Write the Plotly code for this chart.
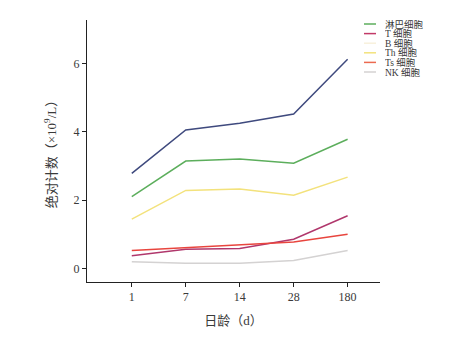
import plotly.graph_objects as go

# Age groups (days) and absolute counts (x10^9/L)
ages = ["1", "7", "14", "28", "180"]
lymphocytes = [2.78, 4.05, 4.25, 4.52, 6.12]
t_cells = [2.10, 3.14, 3.20, 3.08, 3.78]
th_cells = [1.44, 2.28, 2.32, 2.14, 2.67]
b_cells = [0.37, 0.56, 0.58, 0.85, 1.54]
ts_cells = [0.52, 0.61, 0.68, 0.77, 1.00]
nk_cells = [0.19, 0.15, 0.15, 0.23, 0.52]

series = [lymphocytes, t_cells, th_cells, b_cells, ts_cells, nk_cells]
line_colors = ["#3f4a7e", "#5cae5c", "#f3e27c", "#b0376c", "#e8453e", "#d4d2d2"]

legend_names = ["淋巴细胞", "T 细胞", "B 细胞", "Th 细胞", "Ts 细胞", "NK 细胞"]
legend_colors = ["#5cae5c", "#c23a68", "#f8f1dc", "#f3e27c", "#ec6a50", "#d4d2d2"]

SERIF = "Liberation Serif, Noto Sans CJK SC, serif"
TXT = "#3a3a3a"

fig = go.Figure()
for ys, c in zip(series, line_colors):
    fig.add_trace(go.Scatter(x=ages, y=ys, mode="lines",
                             line=dict(color=c, width=1.5), showlegend=False))

# plot-area geometry in pixels, used to place the compact key
W, H = 465, 345
L, R, T, B = 87, 85, 20, 63
pw, ph = W - L - R, H - T - B

def px(x):
    return (x - L) / pw

def py(y):
    return (H - B - y) / ph

row0, step = 24, 9.6
for i, (name, col) in enumerate(zip(legend_names, legend_colors)):
    yc = row0 + i * step
    fig.add_shape(type="line", xref="paper", yref="paper",
                  x0=px(364), x1=px(376), y0=py(yc), y1=py(yc),
                  line=dict(color=col, width=1.5))
    fig.add_annotation(xref="paper", yref="paper", x=px(384), y=py(yc),
                       text=name, showarrow=False, xanchor="left", yanchor="middle",
                       height=9, borderpad=0,
                       font=dict(family=SERIF, size=9.5, color=TXT))

fig.update_layout(
    width=W, height=H,
    margin=dict(l=L, r=R, t=T, b=B),
    plot_bgcolor="white", paper_bgcolor="white",
    showlegend=False,
    font=dict(family=SERIF, size=12, color=TXT),
    xaxis=dict(
        type="category", range=[-0.83, 4.6],
        showline=True, linecolor="#222", linewidth=1,
        ticks="outside", ticklen=4, tickcolor="#222",
        showgrid=False, zeroline=False,
        title=dict(text="日龄（d）", font=dict(size=13, family=SERIF, color=TXT), standoff=12),
    ),
    yaxis=dict(
        range=[-0.4, 7.27], tickvals=[0, 2, 4, 6],
        showline=True, linecolor="#222", linewidth=1,
        ticks="outside", ticklen=4, tickcolor="#222",
        showgrid=False, zeroline=False,
        title=dict(text="绝对计数（×10<sup>9</sup>/L）", font=dict(size=13, family=SERIF, color=TXT), standoff=14),
    ),
)

fig.write_html("out.html")
